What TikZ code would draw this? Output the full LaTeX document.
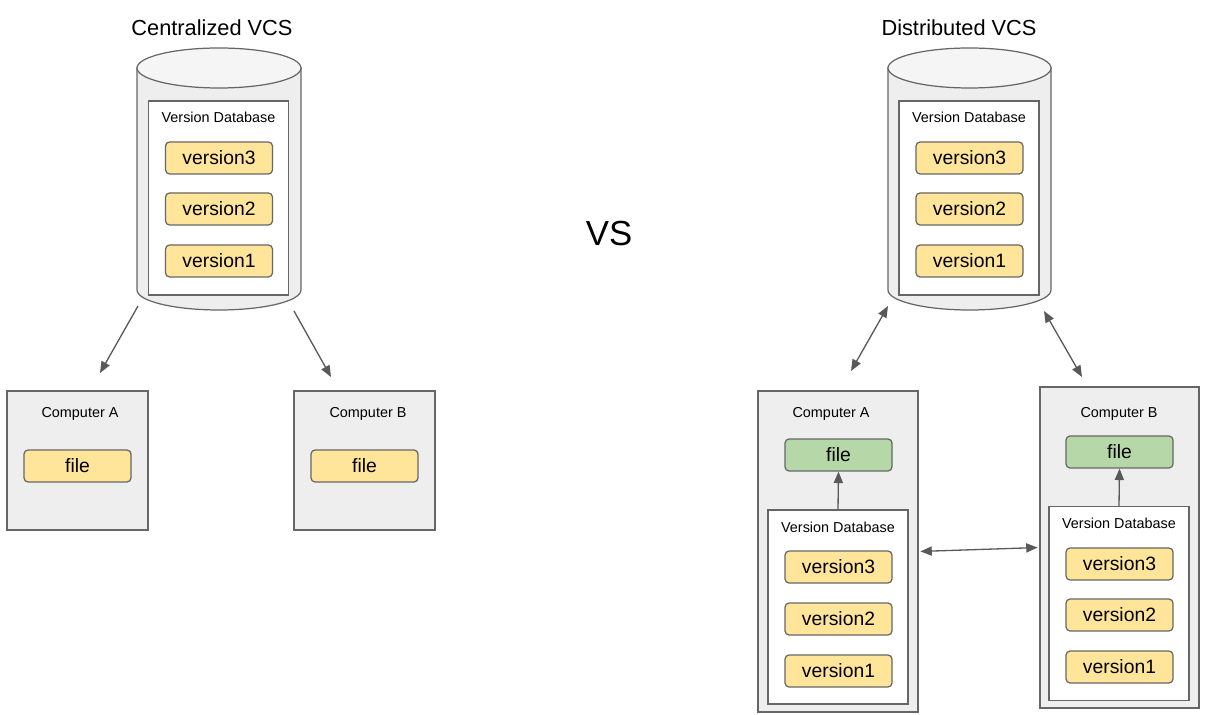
\documentclass[tikz,border=0pt]{standalone}
\usepackage{fontspec}
\setmainfont{Liberation Sans}
\usetikzlibrary{arrows.meta}
\definecolor{boxgray}{HTML}{EEEEEE}
\definecolor{topgray}{HTML}{F5F5F5}
\definecolor{linegray}{HTML}{666666}
\definecolor{arrowgray}{HTML}{595959}
\definecolor{veryellow}{HTML}{FFE599}
\definecolor{filegreen}{HTML}{B6D7A8}
\begin{document}
\begin{tikzpicture}[x=0.02cm, y=-0.02cm,
    title/.style={font=\fontsize{12.4}{14}\selectfont},
    small/.style={font=\fontsize{8.2}{9}\selectfont},
    computer/.style={draw=linegray, fill=boxgray, line width=0.7pt},
    database/.style={draw=linegray, fill=white, line width=0.7pt, minimum width=2.8cm, minimum height=3.88cm},
    version/.style={draw=linegray, fill=veryellow, rounded corners=2.3pt, line width=0.7pt,
      minimum width=2.14cm, minimum height=0.64cm, font=\fontsize{11}{13}\selectfont},
    workfile/.style={version, fill=filegreen},
    cylbody/.style={draw=linegray, fill=boxgray, line width=0.7pt},
    cyltop/.style={draw=linegray, fill=topgray, line width=0.7pt},
    arr/.style={draw=arrowgray, line width=0.75pt, -{Triangle[length=6.5pt, width=5.2pt]}},
    arrboth/.style={arr, {Triangle[length=6.5pt, width=5.2pt]}-{Triangle[length=6.5pt, width=5.2pt]}}]
    \useasboundingbox (0,0) rectangle (1213,715);

    % centralized
    \node[title] (centraltitle) at (212,28) {Centralized VCS};
    \filldraw[cylbody] (137,68) -- (137,290) arc[start angle=180, end angle=0, x radius=82, y radius=20] -- (301,68) -- cycle;
    \filldraw[cyltop] (219,68) ellipse[x radius=82, y radius=20];
    \node[database] (centraldb) at (218.5,198) {};
    \node[small] (centraldblabel) at (218.5,117) {Version Database};
    \node[version] (centralv3) at (219,158) {version3};
    \node[version] (centralv2) at (219,209) {version2};
    \node[version] (centralv1) at (219,261) {version1};

    \node[computer, minimum width=2.82cm, minimum height=2.78cm] (centralA) at (77.5,460.5) {};
    \node[small] (centralAlabel) at (80,414) {Computer A};
    \node[version] (centralAfile) at (77.5,466) {file};
    \node[computer, minimum width=2.82cm, minimum height=2.78cm] (centralB) at (364.5,460.5) {};
    \node[small] (centralBlabel) at (368,414) {Computer B};
    \node[version] (centralBfile) at (364.5,466) {file};

    \coordinate (centralcylA) at (138,306);
    \coordinate (centralcylB) at (294,311);
    \coordinate (centraltopA) at (100,373);
    \coordinate (centraltopB) at (331,377);
    \draw[arr] (centralcylA) -- (centraltopA);
    \draw[arr] (centralcylB) -- (centraltopB);

    \node[font=\fontsize{19.8}{22}\selectfont] (vs) at (609,234) {VS};

    % distributed
    \node[title] (disttitle) at (959,28) {Distributed VCS};
    \filldraw[cylbody] (888,68) -- (888,290) arc[start angle=180, end angle=0, x radius=81.5, y radius=20] -- (1051,68) -- cycle;
    \filldraw[cyltop] (969.5,68) ellipse[x radius=81.5, y radius=20];
    \node[database] (distdb) at (969,198) {};
    \node[small] (distdblabel) at (969,117) {Version Database};
    \node[version] (distv3) at (969.5,158) {version3};
    \node[version] (distv2) at (969.5,209) {version2};
    \node[version] (distv1) at (969.5,261) {version1};

    \node[computer, minimum width=3.2cm, minimum height=6.42cm] (distA) at (838,551.5) {};
    \node[small] (distAlabel) at (831,414) {Computer A};
    \node[workfile] (distAfile) at (838.5,455) {file};
    \node[database] (distAdb) at (838,607) {};
    \node[small] (distAdblabel) at (838,527.5) {Version Database};
    \node[version] (distAv3) at (838.5,567) {version3};
    \node[version] (distAv2) at (838.5,619) {version2};
    \node[version] (distAv1) at (838.5,671) {version1};

    \node[computer, minimum width=3.18cm, minimum height=6.42cm] (distB) at (1119.5,547.5) {};
    \node[small] (distBlabel) at (1119,414) {Computer B};
    \node[workfile] (distBfile) at (1119.5,452) {file};
    \node[database] (distBdb) at (1119,603.5) {};
    \node[small] (distBdblabel) at (1119,523) {Version Database};
    \node[version] (distBv3) at (1119.5,564) {version3};
    \node[version] (distBv2) at (1119.5,615) {version2};
    \node[version] (distBv1) at (1119.5,667) {version1};

    \draw[arr] (distAdb.north) -- (distAfile.south);
    \draw[arr] (distBdb.north) -- (distBfile.south);
    \draw[arrboth, shorten <=1pt, shorten >=1pt] (distA.east) -- (distB.west);

    \coordinate (distcylA) at (888,306);
    \coordinate (distcylB) at (1044,311);
    \coordinate (disttopA) at (851,371);
    \coordinate (disttopB) at (1082,377);
    \draw[arrboth] (distcylA) -- (disttopA);
    \draw[arrboth] (distcylB) -- (disttopB);
\end{tikzpicture}
\end{document}
